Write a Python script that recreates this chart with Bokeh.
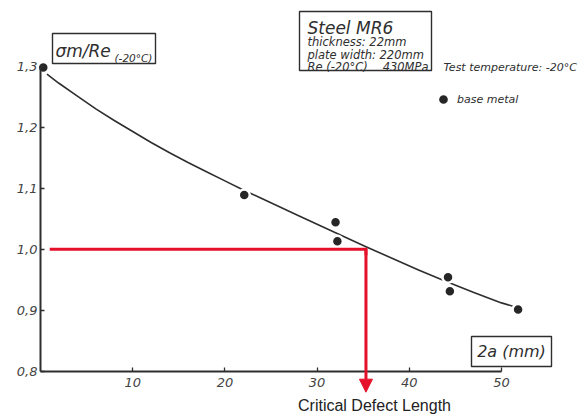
from bokeh.plotting import figure
from bokeh.models import (Range1d, FixedTicker, Label, BoxAnnotation, Arrow,
                          NormalHead, Legend, LegendItem)
from bokeh.embed import file_html
from bokeh.resources import INLINE

W, H = 579, 414
INK = "#2e2e2e"
RED = "#e5102a"

# Measured specimens (base metal): defect length 2a [mm] vs. sigma_m / Re(-20 C)
crack_len = [0.3, 22.1, 32.0, 32.2, 44.2, 44.4, 51.8]
stress_ratio = [1.298, 1.089, 1.044, 1.013, 0.954, 0.931, 0.901]

# Hand-drawn trend line through the results
curve_x = [0.7, 2, 4, 6, 8, 10, 12, 14, 16, 18, 20, 22, 24, 28, 32, 35.3,
           38, 41, 44, 47, 50, 51.6]
curve_y = [1.287, 1.272, 1.251, 1.230, 1.211, 1.193, 1.175, 1.158, 1.142, 1.127,
           1.112, 1.097, 1.083, 1.055, 1.027, 1.004, 0.986, 0.966, 0.947, 0.929,
           0.912, 0.905]

# Critical point where the ratio drops to 1.0
critical_ratio = 1.0
critical_length = 35.3
ref_start = 1.0

x_ticks = [10, 20, 30, 40, 50]
y_ticks = [0.8, 0.9, 1.0, 1.1, 1.2, 1.3]
y_tick_labels = ["0,8", "0,9", "1,0", "1,1", "1,2", "1,3"]

# canvas geometry: origin of the axes and pixel scale
X0_PX, Y0_PX = 40.0, 370.7
PX_PER_MM = 9.22
PX_PER_UNIT_Y = 610.0
x_lo = -X0_PX / PX_PER_MM
x_hi = (W - X0_PX) / PX_PER_MM
y_lo = y_ticks[0] - (H - Y0_PX) / PX_PER_UNIT_Y
y_hi = y_ticks[0] + Y0_PX / PX_PER_UNIT_Y

p = figure(width=W, height=H, x_range=Range1d(x_lo, x_hi), y_range=Range1d(y_lo, y_hi),
           output_backend="svg", toolbar_location=None, min_border=0,
           outline_line_color=None, background_fill_color="white",
           border_fill_color="white")
p.xgrid.visible = False
p.ygrid.visible = False

xa = p.xaxis[0]
xa.fixed_location = y_ticks[0]
xa.bounds = (0, x_ticks[-1])
xa.ticker = FixedTicker(ticks=x_ticks)
ya = p.yaxis[0]
ya.fixed_location = 0
ya.bounds = (y_ticks[0], y_ticks[-1])
ya.ticker = FixedTicker(ticks=y_ticks)
ya.major_label_overrides = {float(t): s for t, s in zip(y_ticks, y_tick_labels)}
for ax in (xa, ya):
    ax.axis_line_color = INK
    ax.axis_line_width = 2
    ax.major_tick_in = 4
    ax.major_tick_out = 0
    ax.major_tick_line_color = INK
    ax.major_tick_line_width = 1.3
    ax.minor_tick_line_color = None
    ax.major_label_text_font = "DejaVu Sans"
    ax.major_label_text_font_style = "italic"
    ax.major_label_text_font_size = "13px"
    ax.major_label_text_color = "#444444"
xa.major_label_standoff = 7
ya.major_label_standoff = 3

# trend line and specimen dots (white ring breaks the line around each dot)
p.line(curve_x, curve_y, line_width=1.6, line_color=INK, line_join="round")
dots = p.scatter(crack_len, stress_ratio, size=11, fill_color="#262626",
                 line_color="white", line_width=2.5)

# critical-length construction in red
p.line([ref_start, critical_length, critical_length],
       [critical_ratio, critical_ratio, critical_ratio - 0.01],
       line_color=RED, line_width=3, line_join="miter")
tip_y = y_ticks[0] - 21 / PX_PER_UNIT_Y
p.add_layout(Arrow(end=NormalHead(size=13, fill_color=RED, line_color=RED),
                   x_start=critical_length, y_start=critical_ratio,
                   x_end=critical_length, y_end=tip_y,
                   line_color=RED, line_width=3))


def note(text, x, y, size, font="DejaVu Sans", style="italic", align="left",
         baseline="alphabetic", color=INK):
    p.add_layout(Label(x=x, y=H - y, x_units="screen", y_units="screen", text=text,
                       text_font=font, text_font_style=style,
                       text_font_size=f"{size}px", text_align=align,
                       text_baseline=baseline, text_color=color))


def frame_box(left, right, top, bottom):
    p.add_layout(BoxAnnotation(left=left, right=right, top=H - top, bottom=H - bottom,
                               left_units="screen", right_units="screen",
                               top_units="screen", bottom_units="screen",
                               fill_alpha=0, line_color=INK, line_alpha=1,
                               line_width=1.4))


# y-axis title
frame_box(52, 155, 33, 63)
note("σm/Re", 55, 50, 17)
note("(-20°C)", 114, 57, 10.5)

# x-axis title
frame_box(471, 551, 336, 366)
note("2a (mm)", 511, 351, 16, align="center", baseline="middle")

# material data box
frame_box(299, 431, 11, 70)
note("Steel MR6", 307, 27, 17)
note("thickness: 22mm", 307, 41, 11.5)
note("plate width: 220mm", 307, 54, 11.5)
note("Re (-20°C)", 307, 66, 11.5)
note("430MPa", 428, 66, 11.5, align="right")

note("Test temperature: -20°C", 443, 67, 11, baseline="middle")

legend = Legend(items=[LegendItem(label="base metal", renderers=[dots])],
                location=(429, H - 113), padding=0, margin=0, spacing=0,
                glyph_width=28, glyph_height=28, label_height=12, label_standoff=0,
                border_line_color=None, background_fill_alpha=0,
                label_text_font="DejaVu Sans", label_text_font_style="italic",
                label_text_font_size="11px", label_text_color=INK)
p.add_layout(legend)

note("Critical Defect Length", 374, 405, 16, font="Liberation Sans", style="normal",
     align="center", color="#222222")

open("out.html", "w").write(file_html(p, INLINE))
